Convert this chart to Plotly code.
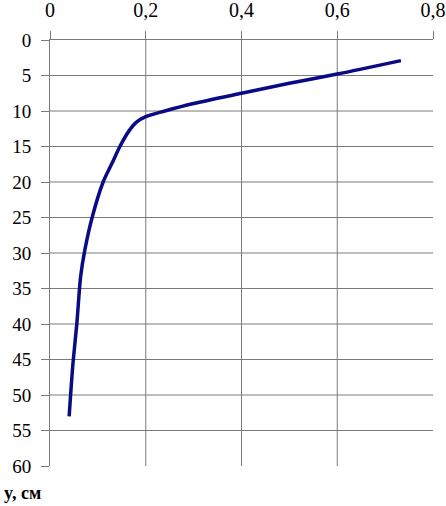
import plotly.graph_objects as go

# Data
x_vals = [0.733, 0.60, 0.50, 0.40, 0.30, 0.24, 0.20, 0.18, 0.165, 0.146,
          0.130, 0.111, 0.088, 0.073, 0.064, 0.056, 0.048, 0.043, 0.040]
y_vals = [2.9, 4.8, 6.1, 7.5, 8.95, 10.0, 10.8, 11.6, 12.8, 15.0,
          17.3, 20.0, 25.0, 29.5, 33.3, 40.0, 45.5, 50.0, 53.0]

x_ticks = [0, 0.2, 0.4, 0.6, 0.8]
x_tick_labels = ["0", "0,2", "0,4", "0,6", "0,8"]
y_ticks = list(range(0, 61, 5))
y_tick_labels = [str(v) for v in y_ticks]

GRID = "#7a7a7a"
FONT = "Liberation Serif"

fig = go.Figure()
fig.add_trace(go.Scatter(
    x=x_vals, y=y_vals, mode="lines",
    line=dict(color="#0a0a84", width=3.5, shape="spline", smoothing=0.8),
    hoverinfo="skip", showlegend=False,
))

shapes = []
for xv in x_ticks[1:-1]:
    shapes.append(dict(type="line", xref="x", yref="y", x0=xv, x1=xv, y0=0, y1=60,
                       line=dict(color=GRID, width=1), layer="below"))
for yv in y_ticks[1:-1]:
    shapes.append(dict(type="line", xref="x", yref="y", x0=0, x1=0.8, y0=yv, y1=yv,
                       line=dict(color=GRID, width=1), layer="below"))

fig.update_layout(
    width=446, height=506,
    margin=dict(l=50, r=13, t=40, b=40, autoexpand=False),
    paper_bgcolor="white", plot_bgcolor="white",
    font=dict(family=FONT, color="black"),
    shapes=shapes,
    xaxis=dict(
        side="top", range=[0, 0.8], tickvals=x_ticks, ticktext=x_tick_labels,
        showgrid=False, zeroline=False, showline=True, linecolor=GRID, linewidth=1,
        ticks="outside", ticklen=8, tickcolor=GRID, tickwidth=1,
        tickfont=dict(family=FONT, size=20, color="black"),
        ticklabelstandoff=6, automargin=False,
    ),
    yaxis=dict(
        range=[60, 0], tickvals=y_ticks, ticktext=y_tick_labels,
        showgrid=False, zeroline=False, showline=True, linecolor=GRID, linewidth=1,
        ticks="outside", ticklen=8, tickcolor=GRID, tickwidth=1,
        tickfont=dict(family=FONT, size=19, color="black"),
        ticklabelstandoff=6, automargin=False,
    ),
    annotations=[dict(
        text="<b>y, см</b>", xref="paper", yref="paper", x=0, y=0,
        xshift=-48, yshift=-27, xanchor="left", yanchor="middle", showarrow=False,
        font=dict(family=FONT, size=18, color="black"),
    )],
)

fig.write_html(
    "out.html",
    config={"displayModeBar": False, "staticPlot": True},
    post_script="document.body.style.margin='0';document.body.style.overflow='hidden';",
)
